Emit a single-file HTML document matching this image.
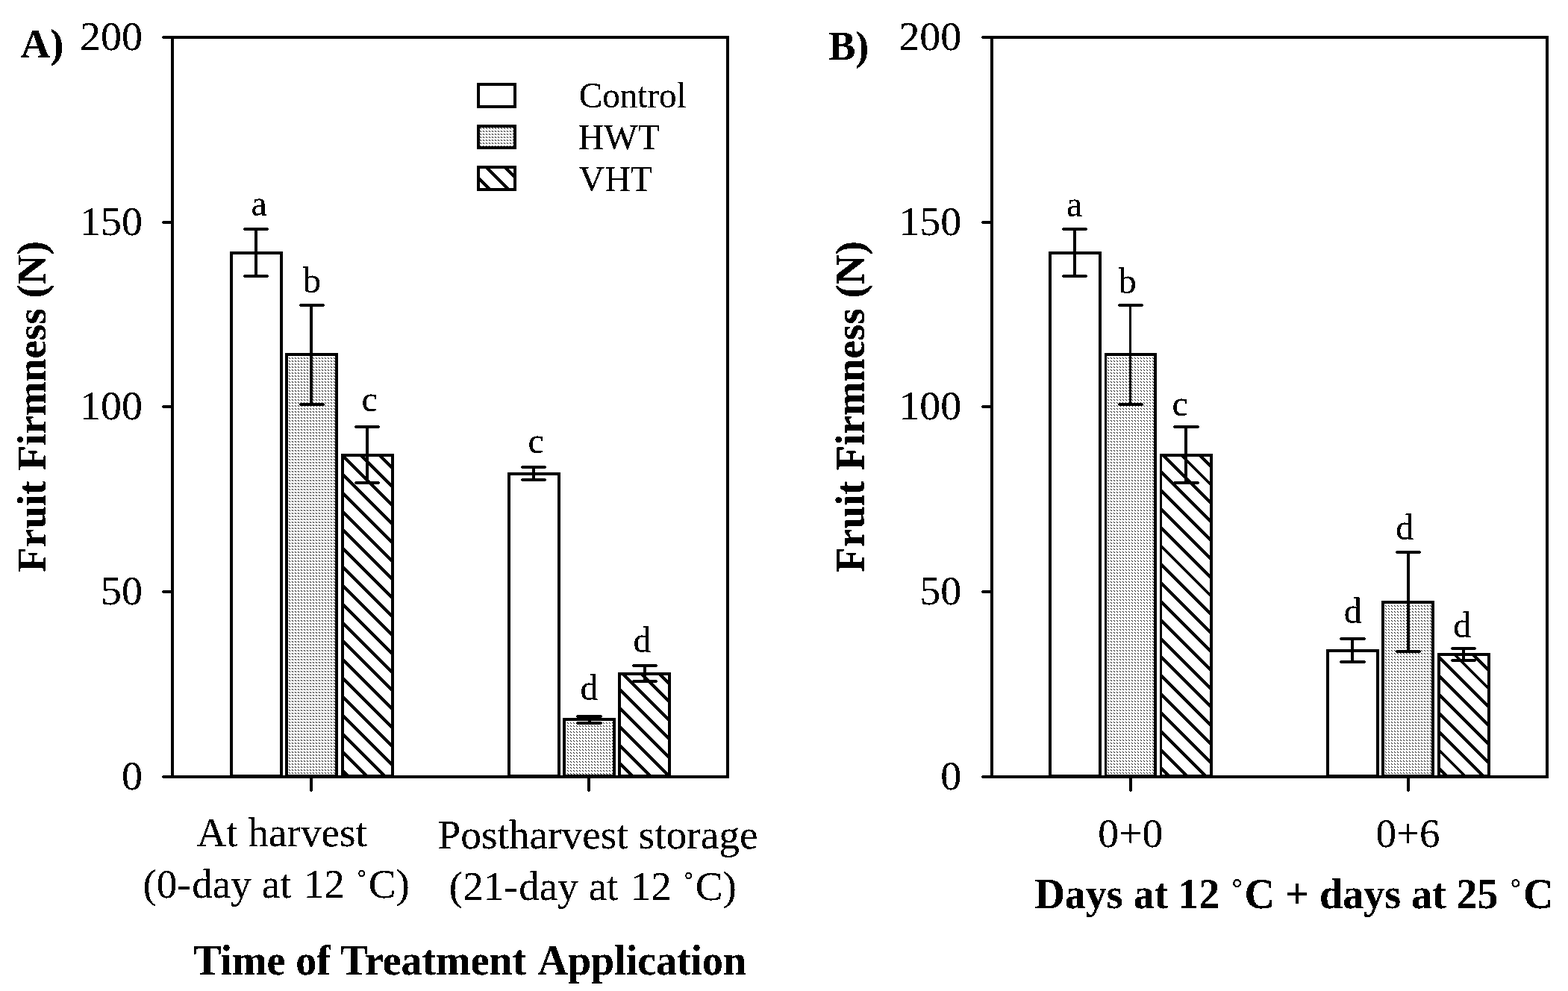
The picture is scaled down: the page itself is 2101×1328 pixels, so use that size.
<!DOCTYPE html>
<html lang="en"><head><meta charset="utf-8"><title>Fruit Firmness</title>
<style>
html,body{margin:0;padding:0;background:#fff;}
body{width:2101px;height:1328px;overflow:hidden;}
svg{display:block;}
text{font-family:"Liberation Serif","Times New Roman",Times,serif;fill:#000;}
text.b{font-weight:bold;}
rect,path{shape-rendering:crispEdges;}
</style></head><body>
<svg width="2101" height="1328" viewBox="0 0 2101 1328">
<defs>
<pattern id="dots00" x="0" y="0" width="4" height="4" patternUnits="userSpaceOnUse"><rect width="4" height="4" fill="#fff"/><rect x="0" y="0" width="1" height="1" fill="#000"/><rect x="3" y="3" width="1" height="1" fill="#000"/></pattern>
<pattern id="dots10" x="1" y="0" width="4" height="4" patternUnits="userSpaceOnUse"><rect width="4" height="4" fill="#fff"/><rect x="0" y="0" width="1" height="1" fill="#000"/><rect x="3" y="3" width="1" height="1" fill="#000"/></pattern>
<pattern id="dots11" x="1" y="1" width="4" height="4" patternUnits="userSpaceOnUse"><rect width="4" height="4" fill="#fff"/><rect x="0" y="0" width="1" height="1" fill="#000"/><rect x="3" y="3" width="1" height="1" fill="#000"/></pattern>
<filter id="bw" x="0" y="0" width="2101" height="1328" filterUnits="userSpaceOnUse" color-interpolation-filters="sRGB">
<feComponentTransfer><feFuncA type="discrete" tableValues="0 0 1 1 1"/></feComponentTransfer>
</filter>
</defs>
<rect width="2101" height="1328" fill="#fff"/>
<rect x="229" y="48" width="4" height="995" fill="#000"/>
<rect x="973" y="48" width="4" height="995" fill="#000"/>
<rect x="229" y="48" width="748" height="4" fill="#000"/>
<rect x="229" y="1039" width="748" height="4" fill="#000"/>
<rect x="218" y="48" width="12" height="4" fill="#000"/>
<rect x="217" y="49" width="1" height="2" fill="#000"/>
<rect x="218" y="296" width="12" height="4" fill="#000"/>
<rect x="217" y="297" width="1" height="2" fill="#000"/>
<rect x="218" y="543" width="12" height="4" fill="#000"/>
<rect x="217" y="544" width="1" height="2" fill="#000"/>
<rect x="218" y="791" width="12" height="4" fill="#000"/>
<rect x="217" y="792" width="1" height="2" fill="#000"/>
<rect x="218" y="1039" width="12" height="4" fill="#000"/>
<rect x="217" y="1040" width="1" height="2" fill="#000"/>
<rect x="415" y="1042" width="4" height="18" fill="#000"/>
<rect x="416" y="1060" width="2" height="1" fill="#000"/>
<rect x="787" y="1042" width="4" height="18" fill="#000"/>
<rect x="788" y="1060" width="2" height="1" fill="#000"/>
<rect x="308" y="337" width="71" height="705" fill="#000"/>
<rect x="312" y="341" width="63" height="697" fill="#fff"/>
<rect x="341" y="305" width="4" height="67" fill="#000"/>
<rect x="327" y="305" width="32" height="4" fill="#000"/>
<rect x="326" y="306" width="1" height="2" fill="#000"/>
<rect x="359" y="306" width="1" height="2" fill="#000"/>
<rect x="327" y="368" width="32" height="4" fill="#000"/>
<rect x="326" y="369" width="1" height="2" fill="#000"/>
<rect x="359" y="369" width="1" height="2" fill="#000"/>
<rect x="382" y="473" width="71" height="569" fill="#000"/>
<rect x="386" y="477" width="63" height="561" fill="url(#dots00)"/>
<rect x="415" y="407" width="4" height="137" fill="#000"/>
<rect x="402" y="407" width="32" height="4" fill="#000"/>
<rect x="401" y="408" width="1" height="2" fill="#000"/>
<rect x="434" y="408" width="1" height="2" fill="#000"/>
<rect x="402" y="540" width="32" height="4" fill="#000"/>
<rect x="401" y="541" width="1" height="2" fill="#000"/>
<rect x="434" y="541" width="1" height="2" fill="#000"/>
<rect x="457" y="608" width="71" height="434" fill="#000"/>
<rect x="461" y="612" width="63" height="426" fill="#fff"/>
<clipPath id="c1"><rect x="461" y="612" width="63" height="426"/></clipPath>
<path d="M-17.39 606L420.61 1044M7.44 606L445.44 1044M32.27 606L470.27 1044M57.10 606L495.10 1044M81.93 606L519.93 1044M106.76 606L544.76 1044M131.59 606L569.59 1044M156.42 606L594.42 1044M181.25 606L619.25 1044M206.08 606L644.08 1044M230.91 606L668.91 1044M255.74 606L693.74 1044M280.57 606L718.57 1044M305.40 606L743.40 1044M330.23 606L768.23 1044M355.06 606L793.06 1044M379.89 606L817.89 1044M404.72 606L842.72 1044M429.55 606L867.55 1044M454.38 606L892.38 1044M479.21 606L917.21 1044M504.04 606L942.04 1044M528.87 606L966.87 1044M553.70 606L991.70 1044" stroke="#000" stroke-width="4.2" fill="none" clip-path="url(#c1)" shape-rendering="crispEdges"/>
<rect x="490" y="570" width="4" height="79" fill="#000"/>
<rect x="476" y="570" width="32" height="4" fill="#000"/>
<rect x="475" y="571" width="1" height="2" fill="#000"/>
<rect x="508" y="571" width="1" height="2" fill="#000"/>
<rect x="476" y="645" width="32" height="4" fill="#000"/>
<rect x="475" y="646" width="1" height="2" fill="#000"/>
<rect x="508" y="646" width="1" height="2" fill="#000"/>
<rect x="680" y="633" width="71" height="409" fill="#000"/>
<rect x="684" y="637" width="63" height="401" fill="#fff"/>
<rect x="713" y="624" width="4" height="21" fill="#000"/>
<rect x="699" y="624" width="32" height="4" fill="#000"/>
<rect x="698" y="625" width="1" height="2" fill="#000"/>
<rect x="731" y="625" width="1" height="2" fill="#000"/>
<rect x="699" y="641" width="32" height="4" fill="#000"/>
<rect x="698" y="642" width="1" height="2" fill="#000"/>
<rect x="731" y="642" width="1" height="2" fill="#000"/>
<rect x="754" y="962" width="71" height="80" fill="#000"/>
<rect x="758" y="966" width="63" height="72" fill="url(#dots11)"/>
<rect x="788" y="958" width="4" height="13" fill="#000"/>
<rect x="773" y="958" width="33" height="4" fill="#000"/>
<rect x="772" y="959" width="1" height="2" fill="#000"/>
<rect x="806" y="959" width="1" height="2" fill="#000"/>
<rect x="773" y="967" width="33" height="4" fill="#000"/>
<rect x="772" y="968" width="1" height="2" fill="#000"/>
<rect x="806" y="968" width="1" height="2" fill="#000"/>
<rect x="828" y="901" width="71" height="141" fill="#000"/>
<rect x="832" y="905" width="63" height="133" fill="#fff"/>
<clipPath id="c2"><rect x="832" y="905" width="63" height="133"/></clipPath>
<path d="M656.41 899L801.41 1044M681.24 899L826.24 1044M706.07 899L851.07 1044M730.90 899L875.90 1044M755.73 899L900.73 1044M780.56 899L925.56 1044M805.39 899L950.39 1044M830.22 899L975.22 1044M855.05 899L1000.05 1044M879.88 899L1024.88 1044M904.71 899L1049.71 1044M929.54 899L1074.54 1044" stroke="#000" stroke-width="4.2" fill="none" clip-path="url(#c2)" shape-rendering="crispEdges"/>
<rect x="862" y="890" width="4" height="25" fill="#000"/>
<rect x="848" y="890" width="32" height="4" fill="#000"/>
<rect x="847" y="891" width="1" height="2" fill="#000"/>
<rect x="880" y="891" width="1" height="2" fill="#000"/>
<rect x="848" y="911" width="32" height="4" fill="#000"/>
<rect x="847" y="912" width="1" height="2" fill="#000"/>
<rect x="880" y="912" width="1" height="2" fill="#000"/>
<rect x="639" y="111" width="53" height="34" fill="#000"/>
<rect x="643" y="115" width="45" height="26" fill="#fff"/>
<rect x="639" y="167" width="53" height="33" fill="#000"/>
<rect x="643" y="171" width="45" height="25" fill="url(#dots00)"/>
<rect x="639" y="222" width="53" height="34" fill="#000"/>
<rect x="643" y="226" width="45" height="26" fill="#fff"/>
<clipPath id="c3"><rect x="643" y="226" width="45" height="26"/></clipPath>
<path d="M572.90 220L610.90 258M597.90 220L635.90 258M622.90 220L660.90 258M647.90 220L685.90 258M672.90 220L710.90 258M697.90 220L735.90 258M722.90 220L760.90 258" stroke="#000" stroke-width="4.2" fill="none" clip-path="url(#c3)" shape-rendering="crispEdges"/>
<rect x="1327" y="48" width="4" height="995" fill="#000"/>
<rect x="2071" y="48" width="4" height="995" fill="#000"/>
<rect x="1327" y="48" width="748" height="4" fill="#000"/>
<rect x="1327" y="1039" width="748" height="4" fill="#000"/>
<rect x="1316" y="48" width="12" height="4" fill="#000"/>
<rect x="1315" y="49" width="1" height="2" fill="#000"/>
<rect x="1316" y="296" width="12" height="4" fill="#000"/>
<rect x="1315" y="297" width="1" height="2" fill="#000"/>
<rect x="1316" y="543" width="12" height="4" fill="#000"/>
<rect x="1315" y="544" width="1" height="2" fill="#000"/>
<rect x="1316" y="791" width="12" height="4" fill="#000"/>
<rect x="1315" y="792" width="1" height="2" fill="#000"/>
<rect x="1316" y="1039" width="12" height="4" fill="#000"/>
<rect x="1315" y="1040" width="1" height="2" fill="#000"/>
<rect x="1513" y="1042" width="4" height="18" fill="#000"/>
<rect x="1514" y="1060" width="2" height="1" fill="#000"/>
<rect x="1885" y="1042" width="4" height="18" fill="#000"/>
<rect x="1886" y="1060" width="2" height="1" fill="#000"/>
<rect x="1405" y="337" width="71" height="705" fill="#000"/>
<rect x="1409" y="341" width="63" height="697" fill="#fff"/>
<rect x="1438" y="305" width="4" height="67" fill="#000"/>
<rect x="1424" y="305" width="32" height="4" fill="#000"/>
<rect x="1423" y="306" width="1" height="2" fill="#000"/>
<rect x="1456" y="306" width="1" height="2" fill="#000"/>
<rect x="1424" y="368" width="32" height="4" fill="#000"/>
<rect x="1423" y="369" width="1" height="2" fill="#000"/>
<rect x="1456" y="369" width="1" height="2" fill="#000"/>
<rect x="1480" y="473" width="70" height="569" fill="#000"/>
<rect x="1483" y="477" width="63" height="561" fill="url(#dots10)"/>
<rect x="1513" y="407" width="3" height="137" fill="#000"/>
<rect x="1499" y="407" width="32" height="4" fill="#000"/>
<rect x="1498" y="408" width="1" height="2" fill="#000"/>
<rect x="1531" y="408" width="1" height="2" fill="#000"/>
<rect x="1499" y="540" width="32" height="4" fill="#000"/>
<rect x="1498" y="541" width="1" height="2" fill="#000"/>
<rect x="1531" y="541" width="1" height="2" fill="#000"/>
<rect x="1554" y="608" width="71" height="434" fill="#000"/>
<rect x="1557" y="612" width="64" height="426" fill="#fff"/>
<clipPath id="c4"><rect x="1557" y="612" width="64" height="426"/></clipPath>
<path d="M1082.41 606L1520.41 1044M1107.24 606L1545.24 1044M1132.07 606L1570.07 1044M1156.90 606L1594.90 1044M1181.73 606L1619.73 1044M1206.56 606L1644.56 1044M1231.39 606L1669.39 1044M1256.22 606L1694.22 1044M1281.05 606L1719.05 1044M1305.88 606L1743.88 1044M1330.71 606L1768.71 1044M1355.54 606L1793.54 1044M1380.37 606L1818.37 1044M1405.20 606L1843.20 1044M1430.03 606L1868.03 1044M1454.86 606L1892.86 1044M1479.69 606L1917.69 1044M1504.52 606L1942.52 1044M1529.35 606L1967.35 1044M1554.18 606L1992.18 1044M1579.01 606L2017.01 1044M1603.84 606L2041.84 1044M1628.67 606L2066.67 1044M1653.50 606L2091.50 1044" stroke="#000" stroke-width="4.2" fill="none" clip-path="url(#c4)" shape-rendering="crispEdges"/>
<rect x="1587" y="570" width="4" height="79" fill="#000"/>
<rect x="1573" y="570" width="33" height="4" fill="#000"/>
<rect x="1572" y="571" width="1" height="2" fill="#000"/>
<rect x="1606" y="571" width="1" height="2" fill="#000"/>
<rect x="1573" y="645" width="33" height="4" fill="#000"/>
<rect x="1572" y="646" width="1" height="2" fill="#000"/>
<rect x="1606" y="646" width="1" height="2" fill="#000"/>
<rect x="1777" y="870" width="71" height="172" fill="#000"/>
<rect x="1781" y="874" width="63" height="164" fill="#fff"/>
<rect x="1810" y="854" width="4" height="35" fill="#000"/>
<rect x="1796" y="854" width="33" height="4" fill="#000"/>
<rect x="1795" y="855" width="1" height="2" fill="#000"/>
<rect x="1829" y="855" width="1" height="2" fill="#000"/>
<rect x="1796" y="885" width="33" height="4" fill="#000"/>
<rect x="1795" y="886" width="1" height="2" fill="#000"/>
<rect x="1829" y="886" width="1" height="2" fill="#000"/>
<rect x="1851" y="805" width="71" height="237" fill="#000"/>
<rect x="1855" y="809" width="63" height="229" fill="url(#dots10)"/>
<rect x="1885" y="738" width="4" height="137" fill="#000"/>
<rect x="1871" y="738" width="32" height="4" fill="#000"/>
<rect x="1870" y="739" width="1" height="2" fill="#000"/>
<rect x="1903" y="739" width="1" height="2" fill="#000"/>
<rect x="1871" y="871" width="32" height="4" fill="#000"/>
<rect x="1870" y="872" width="1" height="2" fill="#000"/>
<rect x="1903" y="872" width="1" height="2" fill="#000"/>
<rect x="1926" y="875" width="71" height="167" fill="#000"/>
<rect x="1930" y="879" width="63" height="159" fill="#fff"/>
<clipPath id="c5"><rect x="1930" y="879" width="63" height="159"/></clipPath>
<path d="M1721.51 873L1892.51 1044M1746.34 873L1917.34 1044M1771.17 873L1942.17 1044M1796.00 873L1967.00 1044M1820.83 873L1991.83 1044M1845.66 873L2016.66 1044M1870.49 873L2041.49 1044M1895.32 873L2066.32 1044M1920.15 873L2091.15 1044M1944.98 873L2115.98 1044M1969.81 873L2140.81 1044M1994.64 873L2165.64 1044M2019.47 873L2190.47 1044" stroke="#000" stroke-width="4.2" fill="none" clip-path="url(#c5)" shape-rendering="crispEdges"/>
<rect x="1959" y="867" width="4" height="20" fill="#000"/>
<rect x="1945" y="867" width="32" height="4" fill="#000"/>
<rect x="1944" y="868" width="1" height="2" fill="#000"/>
<rect x="1977" y="868" width="1" height="2" fill="#000"/>
<rect x="1945" y="883" width="32" height="4" fill="#000"/>
<rect x="1944" y="884" width="1" height="2" fill="#000"/>
<rect x="1977" y="884" width="1" height="2" fill="#000"/>
<g filter="url(#bw)">
<text class="r" transform="translate(191 66.7) scale(1.008 1)" font-size="55.5" text-anchor="end">200</text>
<text class="r" transform="translate(191 314.7) scale(1.008 1)" font-size="55.5" text-anchor="end">150</text>
<text class="r" transform="translate(191 561.7) scale(1.008 1)" font-size="55.5" text-anchor="end">100</text>
<text class="r" transform="translate(191 809.7) scale(1.008 1)" font-size="55.5" text-anchor="end">50</text>
<text class="r" transform="translate(191 1057.7) scale(1.008 1)" font-size="55.5" text-anchor="end">0</text>
<text class="r" transform="translate(775.8 144.3) scale(0.982 1)" font-size="48" text-anchor="start">Control</text>
<text class="r" transform="translate(774.7 200.1)" font-size="48" text-anchor="start">HWT</text>
<text class="r" transform="translate(775.5 255.7)" font-size="48" text-anchor="start">VHT</text>
<text class="b" transform="translate(27.4 77.1)" font-size="55" text-anchor="start">A)</text>
<text class="b" transform="translate(60.7 766.8) rotate(-90) scale(0.9935 1)" font-size="55.5" text-anchor="start">Fruit Firmness (N)</text>
<text class="r" transform="translate(336.4 289.4)" font-size="48" text-anchor="start">a</text>
<text class="r" transform="translate(405.9 392.2)" font-size="48" text-anchor="start">b</text>
<text class="r" transform="translate(484.6 551.1)" font-size="48" text-anchor="start">c</text>
<text class="r" transform="translate(707.6 607)" font-size="48" text-anchor="start">c</text>
<text class="r" transform="translate(777.6 938)" font-size="48" text-anchor="start">d</text>
<text class="r" transform="translate(848.6 873.9)" font-size="48" text-anchor="start">d</text>
<text class="r" transform="translate(263.5 1133.8) scale(1.003 1)" font-size="55" text-anchor="start">At harvest</text>
<text class="r" transform="translate(191.4 1203.2) scale(1.003 1)" font-size="55" text-anchor="start">(0-<tspan dx="1.5">day at </tspan><tspan dx="2.5">12 </tspan><tspan dx="1.2" dy="-3" font-size="46">˚</tspan><tspan dx="1.5" dy="3">C</tspan>)</text>
<text class="r" transform="translate(586.4 1137) scale(1.007 1)" font-size="55" text-anchor="start">Postharvest storage</text>
<text class="r" transform="translate(601.8 1206.2) scale(1.003 1)" font-size="55" text-anchor="start">(21-<tspan dx="1.5">day at </tspan><tspan dx="2.5">12 </tspan><tspan dx="1.2" dy="-3" font-size="46">˚</tspan><tspan dx="1.5" dy="3">C</tspan>)</text>
<text class="b" transform="translate(259.2 1305.7) scale(0.998 1)" font-size="56" text-anchor="start">Time of Treatment <tspan dx="1.5">Application</tspan></text>
<text class="r" transform="translate(1288.3 66.7) scale(1.008 1)" font-size="55.5" text-anchor="end">200</text>
<text class="r" transform="translate(1288.3 314.7) scale(1.008 1)" font-size="55.5" text-anchor="end">150</text>
<text class="r" transform="translate(1288.3 561.7) scale(1.008 1)" font-size="55.5" text-anchor="end">100</text>
<text class="r" transform="translate(1288.3 809.7) scale(1.008 1)" font-size="55.5" text-anchor="end">50</text>
<text class="r" transform="translate(1288.3 1057.7) scale(1.008 1)" font-size="55.5" text-anchor="end">0</text>
<text class="b" transform="translate(1110.4 79.7) scale(0.975 1)" font-size="55" text-anchor="start">B)</text>
<text class="b" transform="translate(1157.5 766.8) rotate(-90) scale(0.9935 1)" font-size="55.5" text-anchor="start">Fruit Firmness (N)</text>
<text class="r" transform="translate(1429 290.4)" font-size="48" text-anchor="start">a</text>
<text class="r" transform="translate(1498.7 393.2)" font-size="48" text-anchor="start">b</text>
<text class="r" transform="translate(1570.4 557.3)" font-size="48" text-anchor="start">c</text>
<text class="r" transform="translate(1800.8 834.9)" font-size="48" text-anchor="start">d</text>
<text class="r" transform="translate(1870.2 723)" font-size="48" text-anchor="start">d</text>
<text class="r" transform="translate(1947.2 853.5)" font-size="48" text-anchor="start">d</text>
<text class="r" transform="translate(1514.8 1134.7) scale(1.01 1)" font-size="55" text-anchor="middle">0+0</text>
<text class="r" transform="translate(1886.6 1134.7)" font-size="55" text-anchor="middle">0+6</text>
<text class="b" transform="translate(1386.4 1217)" font-size="56" text-anchor="start">Days at <tspan dx="-1">12 </tspan><tspan dx="0.2" dy="1" font-size="55" font-weight="normal">˚</tspan><tspan dx="0.8" dy="-1">C</tspan> + days at 25 <tspan dx="0.2" dy="1" font-size="55" font-weight="normal">˚</tspan><tspan dx="0.8" dy="-1">C</tspan></text>
</g>
</svg>
</body></html>
